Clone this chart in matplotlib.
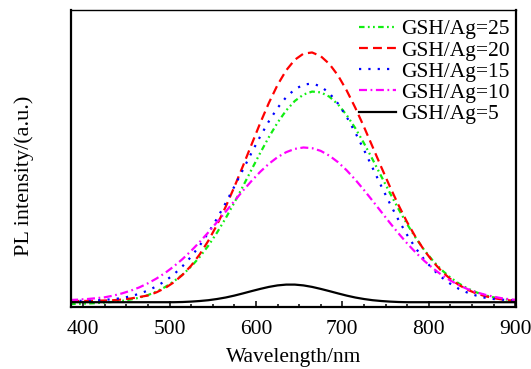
import numpy as np
import matplotlib
matplotlib.use("Agg")
import matplotlib.pyplot as plt
from matplotlib.ticker import MultipleLocator, NullLocator

plt.rcParams["font.family"] = ["Liberation Serif", "DejaVu Serif"]

# wavelength grid (nm) and PL spectra (arbitrary units)
wavelength = np.arange(385, 906, 10)

gsh25 = [-1.5, -1.3, -1.0, -0.6, -0.1, 0.7, 1.6, 3.0, 4.8, 7.4,
         11.0, 15.5, 21.2, 27.8, 35.9, 45.6, 56.9, 69.9, 84.3, 99.8,
         116.2, 133.0, 149.6, 165.4, 179.8, 192.0, 201.5, 207.9, 210.9, 210.1,
         205.8, 198.1, 187.4, 174.3, 159.3, 143.1, 126.3, 109.6, 93.5, 78.3,
         64.5, 52.2, 41.6, 32.5, 25.0, 18.9, 14.0, 10.2, 7.3, 5.2,
         3.6, 2.4, 1.6]
gsh20 = [1.5, 1.5, 1.6, 1.8, 2.0, 2.3, 3.0, 4.0, 5.5, 7.0,
         10.2, 14.5, 20.2, 27.6, 36.8, 48.2, 61.8, 77.7, 95.7, 115.5,
         136.5, 158.1, 179.5, 199.6, 217.5, 232.1, 242.7, 248.8, 250.0, 246.3,
         238.5, 227.0, 212.0, 194.7, 175.7, 155.7, 135.5, 115.9, 97.4, 80.3,
         65.1, 51.9, 40.6, 31.2, 23.5, 17.5, 12.7, 9.1, 6.4, 4.4,
         3.0, 2.0, 1.6]
gsh15 = [1.5, 1.6, 1.8, 2.1, 2.6, 3.4, 4.4, 6.3, 8.7, 12.0,
         16.2, 21.5, 28.1, 36.2, 45.8, 57.0, 69.8, 84.0, 99.5, 115.9,
         132.8, 149.8, 166.1, 181.2, 194.5, 205.3, 213.2, 217.8, 219.0, 216.1,
         209.3, 198.9, 185.6, 169.9, 152.7, 134.6, 116.5, 99.0, 82.5, 67.5,
         54.2, 42.7, 33.0, 25.1, 18.7, 13.6, 9.8, 6.9, 4.8, 3.5,
         2.8, 2.3, 1.9]
gsh10 = [2.5, 2.9, 3.5, 4.3, 5.2, 6.9, 9.1, 11.8, 15.1, 19.2,
         24.0, 29.6, 36.1, 43.4, 51.6, 60.6, 70.2, 80.4, 90.8, 101.4,
         111.8, 121.6, 130.7, 138.7, 145.3, 150.3, 153.6, 155.0, 154.3, 151.6,
         146.8, 140.3, 132.2, 122.8, 112.5, 101.7, 90.7, 79.7, 69.1, 59.1,
         49.9, 41.5, 34.1, 27.5, 22.0, 17.3, 13.4, 10.3, 7.8, 5.8,
         4.2, 3.1, 2.4]
gsh5 = [0.3, 0.3, 0.3, 0.3, 0.3, 0.3, 0.3, 0.3, 0.3, 0.3,
        0.3, 0.3, 0.3, 0.5, 0.9, 1.5, 2.3, 3.5, 5.0, 6.9,
        9.1, 11.4, 13.6, 15.6, 17.1, 17.9, 17.9, 17.1, 15.6, 13.6,
        11.4, 9.1, 6.9, 5.0, 3.5, 2.3, 1.5, 0.9, 0.5, 0.3,
        0.3, 0.3, 0.3, 0.3, 0.3, 0.3, 0.3, 0.3, 0.3, 0.3,
        0.3, 0.3, 0.3]

labels = ["GSH/Ag=25", "GSH/Ag=20", "GSH/Ag=15", "GSH/Ag=10", "GSH/Ag=5"]

fig = plt.figure(figsize=(5.31, 3.69), dpi=100)
ax = fig.add_axes([0.1337, 0.168, 0.8381, 0.805])

lw = 1.6
ax.plot(wavelength, gsh25, color="#11ee11", lw=lw, dashes=(2.5, 1.5, 0.8, 1.5, 0.8, 1.5), label=labels[0])
ax.plot(wavelength, gsh20, color="#ff0000", lw=lw, dashes=(4, 2.3), label=labels[1])
ax.plot(wavelength, gsh15, color="#0000ff", lw=lw, dashes=(1, 3.2), label=labels[2])
ax.plot(wavelength, gsh10, color="#ff00ff", lw=lw, dashes=(3.6, 1.6, 0.8, 1.6), label=labels[3])
ax.plot(wavelength, gsh5, color="black", lw=lw, label=labels[4])

ax.set_xlim(386, 901)
ax.set_ylim(-4.5, 292.5)

ax.xaxis.set_major_locator(MultipleLocator(100))
ax.xaxis.set_minor_locator(MultipleLocator(25))
ax.yaxis.set_major_locator(NullLocator())
ax.tick_params(axis="x", which="major", direction="in", length=4.3, width=1.1, pad=9, labelsize=15.5)
ax.tick_params(axis="x", which="minor", direction="in", length=2.5, width=1.1)

for side in ["left", "bottom", "right"]:
    ax.spines[side].set_linewidth(1.6)
ax.spines["top"].set_linewidth(1.0)

ax.set_xlabel("Wavelength/nm", fontsize=15.5, labelpad=6.5)
ax.set_ylabel("PL intensity/(a.u.)", fontsize=16)
ax.yaxis.set_label_coords(-0.083, 0.44)

ax.legend(loc="upper right", bbox_to_anchor=(1.0, 0.99), frameon=False, fontsize=15.5,
          handlelength=1.7, handletextpad=0.25, labelspacing=0.05, borderaxespad=0.0,
          borderpad=0.3)

plt.savefig("out.png", dpi=100)
